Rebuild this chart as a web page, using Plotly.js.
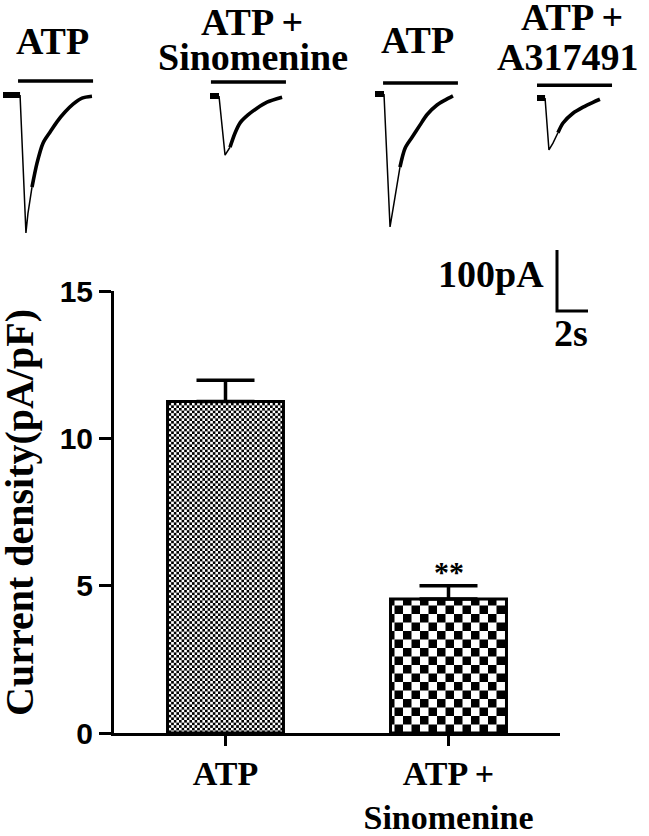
<!DOCTYPE html>
<html>
<head>
<meta charset="utf-8">
<script src="https://cdn.plot.ly/plotly-3.0.1.min.js"></script>
<style>
  html, body { margin: 0; padding: 0; background: #fff; }
  #chart { width: 649px; height: 836px; }
</style>
</head>
<body>
<div id="chart"></div>
<script>
// ---- bar chart values ----
var groups = ["ATP", "ATP +<br>Sinomenine"];
var density = [11.25, 4.55];      // pA/pF
var densityErr = [0.72, 0.45];    // SEM, upper only
var sigMarks = ["", "**"];
var yTicks = [0, 5, 10, 15];

// ---- example recordings, t in s, I in pA ----
var rec1T = [0, 1.10, 1.48, 1.61, 1.87, 2.19, 2.58, 3.03, 3.48, 4.00, 4.52, 5.10, 5.74];
var rec1I = [0, 0, -226, -194, -151, -112, -79, -61, -44, -28, -15, -5, -2];
var rec2T = [0, 0.58, 0.97, 1.29, 1.61, 1.94, 2.45, 3.03, 3.68, 4.65];
var rec2I = [0, 0, -97, -84, -61, -44, -31, -20, -10, -2];
var rec3T = [0, 0.58, 0.97, 1.29, 1.61, 1.94, 2.39, 2.90, 3.35, 4.00, 4.52, 5.03];
var rec3I = [0, 0, -218, -169, -120, -89, -71, -51, -34, -18, -10, -3];
var rec4T = [0, 0.52, 0.77, 1.03, 1.35, 1.68, 2.32, 2.97, 3.61, 4.06];
var rec4I = [0, 0, -85, -74, -57, -41, -25, -15, -7, -2];
var recLabels = [["ATP"], ["ATP +", "Sinomenine"], ["ATP"], ["ATP +", "A317491"]];

// drug application bars (start, end in s; level in pA above baseline)
var appStart = [0.97, 0.06, 0.52, 0.00];
var appEnd = [5.81, 4.90, 5.35, 4.84];
var appLevel = [23, 23, 18, 21];

// scale bar
var scaleT = [0, 0, 2];
var scaleI = [100, 0, 0];

// ---- placement (pixels) ----
var W = 649, H = 836;
var pxPerS = 15.5, pxPerPA = 0.61;
var recOrigin = [[3, 95], [210, 96], [375, 94], [537, 98]];
var thinEnd = [4, 3, 4, 4];
var scaleOrigin = [557, 311];
var labelPos = [[[52, 41]], [[252, 22], [253, 57]], [[418, 40]], [[572, 17], [567, 57]]];
var checkerSide = [2.6, 8.5];   // checker square size per bar, px

var serif = "Liberation Serif, Times New Roman, serif";
var sans = "Liberation Sans, Arial, sans-serif";

function px(x) { return x / W; }
function py(y) { return 1 - y / H; }

var recs = [[rec1T, rec1I], [rec2T, rec2I], [rec3T, rec3I], [rec4T, rec4I]];

var data = [{
  type: "bar",
  x: groups,
  y: density,
  width: 0.52,
  marker: { color: "#fff", line: { color: "#000", width: 3 } },
  error_y: {
    type: "data", symmetric: false, array: densityErr, arrayminus: [0, 0],
    color: "#000", thickness: 3.5, width: 29
  },
  xaxis: "x", yaxis: "y"
}];

function seg(t, i, a, b, o, w, shape) {
  return {
    type: "scatter", mode: "lines",
    x: t.slice(a, b + 1).map(function (v) { return v + o[0] / pxPerS; }),
    y: i.slice(a, b + 1).map(function (v) { return v - o[1] / pxPerPA; }),
    line: { color: "#000", width: w, shape: shape || "linear", smoothing: 0.8 },
    xaxis: "x2", yaxis: "y2"
  };
}

recs.forEach(function (r, k) {
  var o = recOrigin[k];
  data.push(seg(r[0], r[1], 0, 1, o, 6));
  data.push(seg(r[0], r[1], 1, thinEnd[k], o, 1.5));
  data.push(seg(r[0], r[1], thinEnd[k], r[0].length - 1, o, 3.6, "spline"));
  data.push(seg([appStart[k], appEnd[k]], [appLevel[k], appLevel[k]], 0, 1, o, 3.5));
});
data.push(seg(scaleT, scaleI, 0, 2, scaleOrigin, 3));

var annotations = [];
recLabels.forEach(function (lines, k) {
  lines.forEach(function (txt, j) {
    annotations.push({
      xref: "paper", yref: "paper", x: px(labelPos[k][j][0]), y: py(labelPos[k][j][1]),
      xanchor: "center", yanchor: "middle", showarrow: false, text: txt,
      font: { family: serif, size: 38, weight: 700, color: "#000" }
    });
  });
});
annotations.push({
  xref: "paper", yref: "paper", x: px(546), y: py(274), xanchor: "right", yanchor: "middle",
  showarrow: false, text: "100pA", font: { family: serif, size: 38, weight: 700, color: "#000" }
});
annotations.push({
  xref: "paper", yref: "paper", x: px(571), y: py(333), xanchor: "center", yanchor: "middle",
  showarrow: false, text: "2s", font: { family: serif, size: 38, weight: 700, color: "#000" }
});
annotations.push({
  xref: "paper", yref: "paper", x: px(19), y: py(513), xanchor: "center", yanchor: "middle",
  textangle: -90, showarrow: false, text: "Current density(pA/pF)",
  font: { family: serif, size: 40, weight: 700, color: "#000" }
});
groups.forEach(function (g, k) {
  if (!sigMarks[k]) return;
  annotations.push({
    xref: "x", yref: "y", x: g, y: density[k] + densityErr[k], yanchor: "bottom", yshift: -4,
    showarrow: false, text: sigMarks[k], font: { family: serif, size: 30, weight: 700, color: "#000" }
  });
});

var layout = {
  width: W, height: H,
  margin: { l: 0, r: 0, t: 0, b: 0 },
  paper_bgcolor: "#fff", plot_bgcolor: "rgba(0,0,0,0)",
  showlegend: false,
  hovermode: false,
  xaxis: {
    domain: [px(114), px(560)],
    type: "category", range: [-0.5, 1.5],
    showline: true, linecolor: "#000", linewidth: 3,
    ticks: "outside", ticklen: 10, tickwidth: 3, tickcolor: "#000",
    ticklabelstandoff: -2,
    tickfont: { family: serif, size: 34, weight: 700, color: "#000" },
    showgrid: false, zeroline: false, fixedrange: true
  },
  yaxis: {
    domain: [1 - 733 / H, 1 - 291 / H],
    range: [0, 15], tickvals: yTicks,
    showline: true, linecolor: "#000", linewidth: 3,
    ticks: "outside", ticklen: 12, tickwidth: 3, tickcolor: "#000",
    tickfont: { family: sans, size: 30, weight: 700, color: "#000" },
    showgrid: false, zeroline: false, fixedrange: true
  },
  xaxis2: {
    domain: [0, 1], anchor: "y2", range: [0, W / pxPerS],
    visible: false, fixedrange: true
  },
  yaxis2: {
    domain: [0, 1], anchor: "x2", range: [-H / pxPerPA, 0],
    visible: false, fixedrange: true
  },
  annotations: annotations
};

Plotly.newPlot("chart", data, layout, { staticPlot: true }).then(function (gd) {
  // checkerboard fills for the two bars
  var NS = "http://www.w3.org/2000/svg";
  var svg = gd.querySelector("svg.main-svg");
  var defs = svg.querySelector("defs") || svg.insertBefore(document.createElementNS(NS, "defs"), svg.firstChild);
  function rect(p, x, y, w, h, c) {
    var r = document.createElementNS(NS, "rect");
    r.setAttribute("x", x); r.setAttribute("y", y);
    r.setAttribute("width", w); r.setAttribute("height", h);
    r.setAttribute("fill", c);
    p.appendChild(r);
  }
  checkerSide.forEach(function (a, k) {
    var p = document.createElementNS(NS, "pattern");
    p.setAttribute("id", "chk" + k);
    p.setAttribute("patternUnits", "userSpaceOnUse");
    p.setAttribute("width", 2 * a);
    p.setAttribute("height", 2 * a);
    rect(p, 0, 0, 2 * a, 2 * a, "#fff");
    rect(p, 0, 0, a, a, "#000");
    rect(p, a, a, a, a, "#000");
    defs.appendChild(p);
  });
  var bars = gd.querySelectorAll(".barlayer .point path");
  bars.forEach(function (el, k) {
    el.style.fill = "url(#chk" + k + ")";
    el.style.fillOpacity = 1;
  });
});
</script>
</body>
</html>
